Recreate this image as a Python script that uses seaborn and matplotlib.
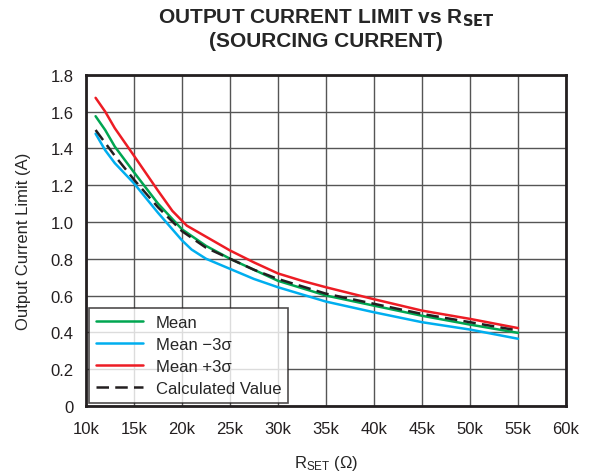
import numpy as np
import pandas as pd
import seaborn as sns
import matplotlib.pyplot as plt

# values (x in kOhm, y in A)
x_mean = [11, 12, 13, 15, 17.5, 20, 22.5, 25, 27.5, 30, 35, 40, 45, 50, 55]
y_mean = [1.575, 1.50, 1.41, 1.27, 1.10, 0.96, 0.87, 0.80, 0.74, 0.68, 0.60, 0.545, 0.49, 0.442, 0.397]

x_low = [11, 12, 13, 15, 17.5, 20, 21, 22.5, 25, 27.5, 30, 35, 40, 45, 50, 55]
y_low = [1.48, 1.39, 1.32, 1.21, 1.05, 0.90, 0.85, 0.80, 0.745, 0.69, 0.645, 0.567, 0.509, 0.455, 0.415, 0.365]

x_high = [11, 12, 13, 15, 17.5, 19, 20.5, 22.5, 25, 27.5, 30, 32.5, 35, 40, 45, 50, 55]
y_high = [1.675, 1.60, 1.51, 1.36, 1.17, 1.06, 0.98, 0.92, 0.845, 0.78, 0.72, 0.68, 0.645, 0.58, 0.518, 0.473, 0.423]

x_calc = [11, 12, 13, 15, 17.5, 20, 22.5, 25, 27.5, 30, 35, 40, 45, 50, 55]
y_calc = [1.50, 1.43, 1.36, 1.23, 1.08, 0.95, 0.86, 0.80, 0.74, 0.69, 0.61, 0.555, 0.50, 0.455, 0.41]

x_ticks = [10, 15, 20, 25, 30, 35, 40, 45, 50, 55, 60]
x_tick_labels = ["10k", "15k", "20k", "25k", "30k", "35k", "40k", "45k", "50k", "55k", "60k"]
y_ticks = [0, 0.2, 0.4, 0.6, 0.8, 1.0, 1.2, 1.4, 1.6, 1.8]
y_tick_labels = ["0", "0.2", "0.4", "0.6", "0.8", "1.0", "1.2", "1.4", "1.6", "1.8"]

sns.set_style("white")
plt.rcParams["font.family"] = ["Liberation Sans", "DejaVu Sans"]
plt.rcParams["mathtext.default"] = "regular"

fig = plt.figure(figsize=(5.89, 4.77), dpi=100)
ax = fig.add_axes([0.146, 0.147, 0.815, 0.694])

sns.lineplot(x=x_mean, y=y_mean, ax=ax, color="#00A651", lw=1.8, label="Mean")
sns.lineplot(x=x_low, y=y_low, ax=ax, color="#00AEEF", lw=1.8, label="Mean \u22123\u03c3")
sns.lineplot(x=x_high, y=y_high, ax=ax, color="#ED1C24", lw=1.8, label="Mean +3\u03c3")
sns.lineplot(x=x_calc, y=y_calc, ax=ax, color="#231F20", lw=1.8, label="Calculated Value",
             linestyle=(0, (5, 2.5)))

ax.set_xlim(10, 60)
ax.set_ylim(0, 1.8)
ax.set_xticks(x_ticks)
ax.set_xticklabels(x_tick_labels)
ax.set_yticks(y_ticks)
ax.set_yticklabels(y_tick_labels)
ax.tick_params(length=0, labelsize=12, colors="#231F20")
ax.tick_params(axis="x", pad=11)
ax.tick_params(axis="y", pad=9)
ax.grid(True, color="#555555", lw=1)
for s in ax.spines.values():
    s.set_linewidth(2)
    s.set_color("#231F20")

ax.set_xlabel("R$_{SET}$ (\u03a9)", fontsize=12, labelpad=12)
ax.set_ylabel("Output Current Limit (A)", fontsize=12, labelpad=14)
ax.set_title("OUTPUT CURRENT LIMIT vs R$_{\\mathbf{SET}}$\n(SOURCING CURRENT)",
             fontsize=15, fontweight="bold", pad=21, linespacing=1.15)

leg = ax.legend(loc="lower left", fontsize=12, frameon=True, fancybox=False,
                edgecolor="#231F20", handlelength=2.8, borderaxespad=0.2,
                labelspacing=0.42, borderpad=0.4)
leg.get_frame().set_linewidth(1.2)

plt.savefig("out.png", dpi=100)
plt.close()
